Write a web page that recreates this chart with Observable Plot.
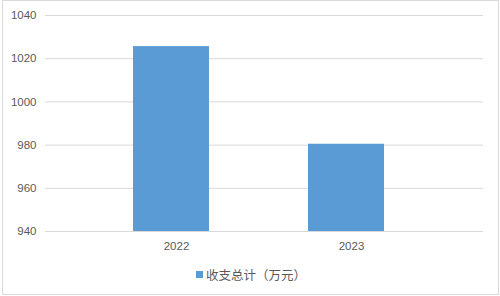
<!DOCTYPE html>
<html>
<head>
<meta charset="utf-8">
<script src="https://cdn.jsdelivr.net/npm/d3@7"></script>
<script src="https://cdn.jsdelivr.net/npm/@observablehq/plot@0.6"></script>
<style>
  html, body { margin: 0; padding: 0; background: #fff; }
  #wrap { position: relative; width: 500px; height: 296px; overflow: hidden; }
  #chart svg { display: block; }
  #legend { position: absolute; left: 0; top: 266px; width: 500px; height: 18px;
    font-family: "Noto Sans CJK SC", sans-serif; font-size: 12.5px; color: #595959; }
  #legend .sw { position: absolute; left: 196px; top: 5px; width: 7px; height: 7px; }
  #legend .tx { position: absolute; left: 206px; top: 0; line-height: 17px; white-space: nowrap; }
  #border { position: absolute; left: 2px; top: 0; width: 497px; height: 295px;
    box-sizing: border-box; border: 1px solid #d9d9d9; pointer-events: none; }
</style>
</head>
<body>
<div id="wrap">
  <div id="chart"></div>
  <div id="legend"><div class="sw"></div><div class="tx"></div></div>
  <div id="border"></div>
</div>
<script>
const years = ["2022", "2023"];
const totals = [1025.6, 980.4];
const yTicks = [940, 960, 980, 1000, 1020, 1040];
const seriesName = "收支总计（万元）";
const barColor = "#5b9bd5";

const data = years.map((y, i) => ({year: y, value: totals[i]}));

const chart = Plot.plot({
  width: 500,
  height: 258,
  marginLeft: 45,
  marginRight: 17,
  marginTop: 15,
  marginBottom: 27,
  style: {fontFamily: "'Liberation Sans', Arial, sans-serif", fontSize: "11.5px", color: "#595959", background: "transparent"},
  x: {domain: years, range: [83, 434], paddingInner: 0.567, paddingOuter: 0.2835, label: null},
  y: {domain: [940, 1040], label: null},
  marks: [
    Plot.ruleY(yTicks, {stroke: "#d9d9d9", strokeWidth: 1}),
    Plot.barY(data, {x: "year", y1: 940, y2: "value", fill: barColor}),
    Plot.axisY(yTicks, {tickSize: 0, tickPadding: 9, tickFormat: d => String(d), fill: "#595959", label: null}),
    Plot.axisX({tickSize: 0, tickPadding: 10, dx: 5, fill: "#595959", label: null})
  ]
});
document.getElementById("chart").appendChild(chart);
document.querySelector("#legend .sw").style.background = barColor;
document.querySelector("#legend .tx").textContent = seriesName;
</script>
</body>
</html>
